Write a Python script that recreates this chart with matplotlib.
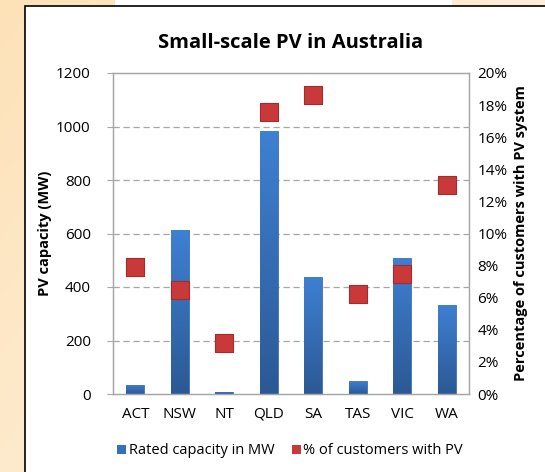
import numpy as np
import matplotlib.pyplot as plt
from matplotlib.patches import Rectangle, Patch
from matplotlib.colors import LinearSegmentedColormap
from matplotlib.ticker import FuncFormatter

# data
states = ["ACT", "NSW", "NT", "QLD", "SA", "TAS", "VIC", "WA"]
capacityMW = [35, 612, 8, 985, 438, 48, 508, 334]
pctCustomers = [7.9, 6.5, 3.2, 17.6, 18.6, 6.2, 7.5, 13.0]

plt.rcParams['font.family'] = ['Open Sans', 'DejaVu Sans']

fig = plt.figure(figsize=(5.45, 4.72), dpi=100)

# slide background: soft orange gradient
bg = fig.add_axes([0, 0, 1, 1])
grad = np.linspace(0, 1, 256)
gx, gy = np.meshgrid(grad, grad)
bg.imshow(0.6 * gx + 0.4 * gy, cmap=LinearSegmentedColormap.from_list("o", ["#fde2b8", "#fff6ea"]),
          extent=[0, 1, 0, 1], aspect="auto", origin="upper")
bg.add_patch(Rectangle((115 / 545, 1 - 6 / 472), 337 / 545, 6 / 472, color="white", lw=0))
bg.add_patch(Rectangle((25 / 545, -0.05), 1.0, 1 - 6 / 472 + 0.05, facecolor="white",
                       edgecolor="black", lw=1.2))
bg.set_xlim(0, 1)
bg.set_ylim(0, 1)
bg.axis("off")

ax = fig.add_axes([113 / 545, 78 / 472, 356 / 545, 321 / 472])
ax2 = ax.twinx()
x = np.arange(len(states))

ax.set_ylim(0, 1200)
ax.set_xlim(-0.5, len(states) - 0.5)
ax.set_yticks(range(0, 1201, 200))
for yv in range(200, 1200, 200):
    ax.axhline(yv, color="#a6a6a6", ls=(0, (5, 3)), lw=0.9, zorder=0)
bars = ax.bar(x, capacityMW, width=0.4, color="#3872c2", edgecolor="#2f62a8", lw=0.5, zorder=2)

# vertical blue gradient inside each bar
barCmap = LinearSegmentedColormap.from_list("b", ["#2c5995", "#3e80d2"])
for b in bars:
    bx, by = b.get_x(), b.get_y()
    bw, bh = b.get_width(), b.get_height()
    im = ax.imshow(np.linspace(0, 1, 64).reshape(-1, 1), cmap=barCmap, origin="lower",
                   extent=[bx, bx + bw, by, by + bh], aspect="auto", zorder=2.1)
    im.set_clip_path(b)
ax.set_xlim(-0.5, len(states) - 0.5)
ax.set_ylim(0, 1200)

ax2.set_ylim(0, 20)
ax2.set_yticks(range(0, 21, 2))
ax2.yaxis.set_major_formatter(FuncFormatter(lambda v, p: f"{v:.0f}%"))
ax2.scatter(x, pctCustomers, marker="s", s=150, color="#c9393a", edgecolor="#a52a2b",
            lw=0.8, zorder=3)

for a in (ax, ax2):
    a.patch.set_alpha(0)
    for s in a.spines.values():
        s.set_color("#a6a6a6")
        s.set_linewidth(0.9)
ax.tick_params(axis="y", length=4, color="#a6a6a6", labelsize=11, pad=12)
ax.tick_params(axis="x", length=0, labelsize=11, pad=9)
ax2.tick_params(axis="y", length=0, labelsize=11, pad=6)
ax.set_xticks(x)
ax.set_xticklabels(states)

ax.set_ylabel("PV capacity (MW)", fontsize=10.5, fontweight="bold", labelpad=3)
ax2.set_ylabel("Percentage of customers with PV system", fontsize=10.5, fontweight="bold",
               labelpad=5)
ax.set_title("Small-scale PV in Australia", fontsize=14.5, fontweight="bold", pad=18)

handles = [Patch(facecolor="#3470bd", edgecolor="none", label="Rated capacity in MW"),
           Patch(facecolor="#c9393a", edgecolor="none", label="% of customers with PV")]
fig.legend(handles=handles, loc="center", bbox_to_anchor=(290 / 545, 1 - 451 / 472), ncol=2,
           frameon=False, fontsize=10.5, handlelength=0.6, handleheight=0.6, handletextpad=0.2,
           columnspacing=1.2)

fig.savefig("out.png", dpi=100)
